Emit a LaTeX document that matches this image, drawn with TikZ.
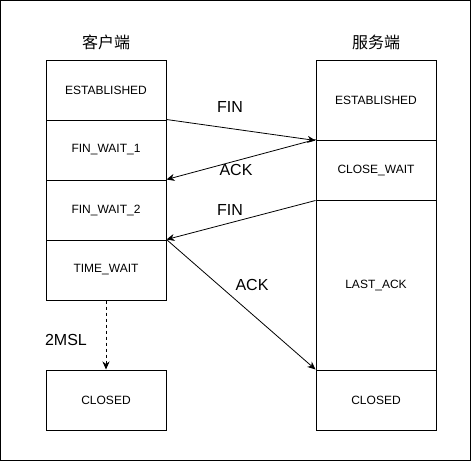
\documentclass[tikz,border=0pt]{standalone}
\usepackage{fontspec}
\setmainfont{Liberation Sans}
\newfontfamily\cjk{Noto Sans CJK SC}
\usetikzlibrary{arrows.meta}
\tikzset{
  state/.style={draw, line width=1pt, minimum width=120pt, inner sep=0pt, font=\fontsize{12}{14}\selectfont},
  msg/.style={-{Stealth[length=8pt,width=7pt,inset=2.5pt]}, line width=0.8pt},
  lbl/.style={font=\fontsize{16}{18}\selectfont}
}
\begin{document}
\begin{tikzpicture}[x=1pt, y=-1pt, line join=miter]
    \useasboundingbox (0,0) rectangle (471,461);
    \draw [line width=1pt] (0.5,0.5) rectangle (470.5,460.5);
    % client side
    \node [lbl] (client) at (106,42) {\cjk 客户端};
    \node [state, minimum height=60pt] (cest) at (106,90) {ESTABLISHED};
    \node [state, minimum height=60pt] (fw1) at (106,150) {FIN\_WAIT\_1};
    \node [state, minimum height=60pt] (fw2) at (106,210) {FIN\_WAIT\_2};
    \node [state, minimum height=60pt] (tw) at (106,270) {TIME\_WAIT};
    \node [state, minimum height=60pt] (cclosed) at (106,400) {CLOSED};
    % server side
    \node [lbl] (server) at (376,42) {\cjk 服务端};
    \node [state, minimum height=80pt] (sest) at (376,100) {ESTABLISHED};
    \node [state, minimum height=60pt] (cw) at (376,170) {CLOSE\_WAIT};
    \node [state, minimum height=170pt] (lack) at (376,285) {LAST\_ACK};
    \node [state, minimum height=60pt] (sclosed) at (376,400) {CLOSED};
    % messages
    \draw [msg] (fw1.north east) -- (sest.south west);
    \node [lbl] (fin1) at (230,107) {FIN};
    \draw [msg] (cw.north west) -- (fw2.north east);
    \node [lbl] (ack1) at (236,170) {ACK};
    \draw [msg] (cw.south west) -- (tw.north east);
    \node [lbl] (fin2) at (230,210) {FIN};
    \draw [msg] (tw.north east) -- (sclosed.north west);
    \node [lbl] (ack2) at (252,285) {ACK};
    \draw [msg, dashed] (tw.south) -- (cclosed.north);
    \node [lbl] (wait) at (66,340) {2MSL};
\end{tikzpicture}
\end{document}
